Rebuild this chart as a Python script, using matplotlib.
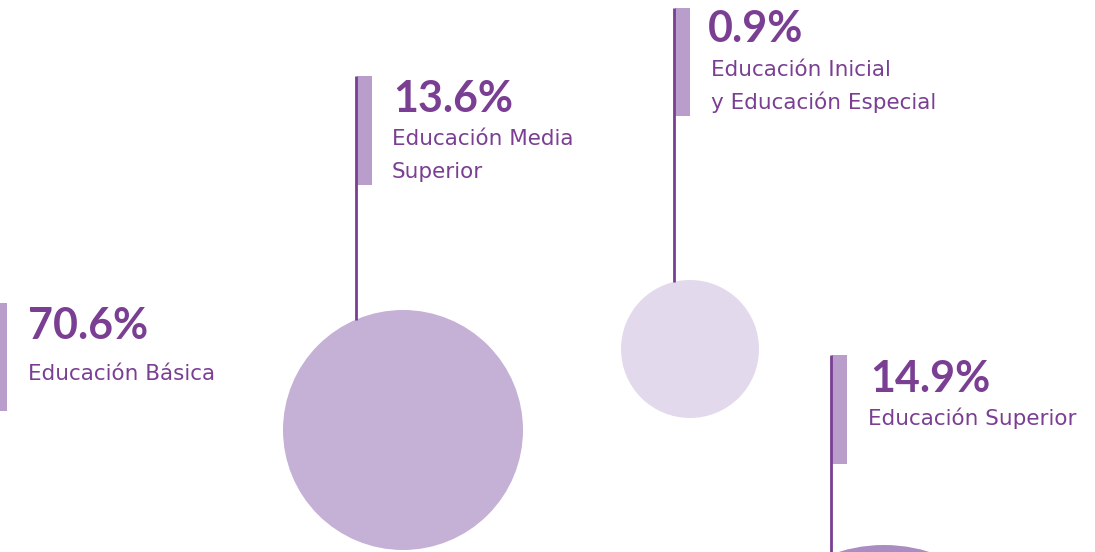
import numpy as np
import matplotlib
matplotlib.use("Agg")
from matplotlib import pyplot as plt
from matplotlib.patches import Circle, Rectangle

# share of each education level
categories = ["Educación Básica", "Educación Media\nSuperior",
              "Educación Inicial\ny Educación Especial", "Educación Superior"]
values = [70.6, 13.6, 0.9, 14.9]

# label anchors (pixels, y downwards): x, baseline of the percentage
pct_x = [28, 393, 708, 870]
pct_y = [339, 112, 42, 392]
# category text: x, baseline of first line
cat_x = [28, 392, 711, 868]
cat_y = [380, 145, 76, 425]
# marker bars: x, top, bottom
bar_x = [0, 355, 673, 830]
bar_top = [303, 76, 8, 355]
bar_bot = [411, 185, 116, 464]
# leader lines, None where the label has none
line_end = [None, 320, 282, 552]

# bubbles: centre x, centre y, radius, colour
bub_x = [403, 690, 884]
bub_y = [430, 349, 697]
bub_r = [120, 69, 152]
bub_c = ["#c5b0d6", "#e2d9ec", "#ab8cc2"]

DARK = "#7a3e93"
LIGHT = "#b99ecc"

fig = plt.figure(figsize=(10.95, 5.52), dpi=100)
ax = fig.add_axes([0, 0, 1, 1])
ax.set_xlim(0, 1095)
ax.set_ylim(552, 0)
ax.set_aspect("equal")
ax.axis("off")

for x, y, r, c in zip(bub_x, bub_y, bub_r, bub_c):
    ax.add_patch(Circle((x, y), r, color=c, lw=0, zorder=1))

for i in range(len(categories)):
    bx = bar_x[i]
    if line_end[i] is not None:
        ax.plot([bx + 1, bx + 1], [bar_top[i], line_end[i]], color=DARK, lw=2,
                solid_capstyle="butt", zorder=3)
        ax.add_patch(Rectangle((bx + 2, bar_top[i]), 15, bar_bot[i] - bar_top[i],
                               color=LIGHT, lw=0, zorder=2))
    else:
        ax.add_patch(Rectangle((bx, bar_top[i]), 7, bar_bot[i] - bar_top[i],
                               color=LIGHT, lw=0, zorder=2))

    ax.text(pct_x[i], pct_y[i], "%.1f%%" % values[i], color=DARK, family="Lato",
            weight="bold", fontsize=31, va="baseline", ha="left")
    for k, line in enumerate(categories[i].split("\n")):
        ax.text(cat_x[i], cat_y[i] + 33 * k, line, color=DARK, family="DejaVu Sans",
                fontsize=15.5, va="baseline", ha="left")

fig.savefig("out.png", dpi=100, facecolor="white")
